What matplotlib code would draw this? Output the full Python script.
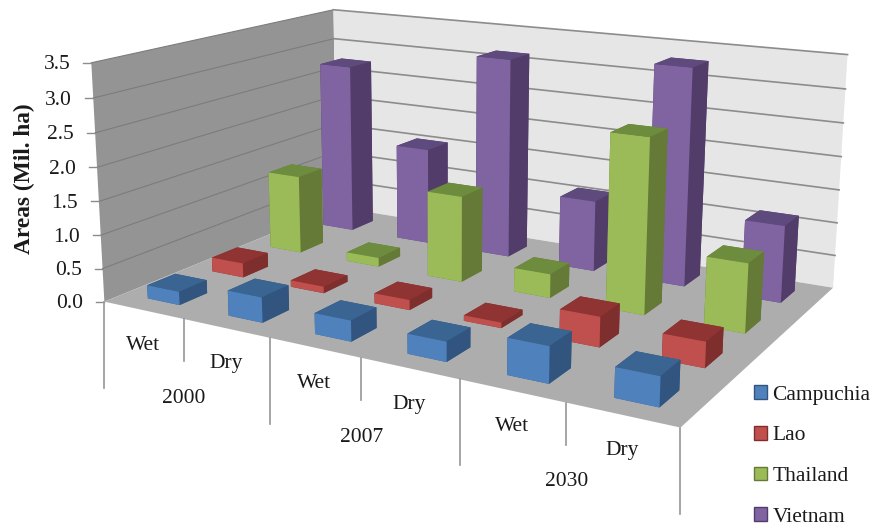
import numpy as np
import matplotlib
matplotlib.use("Agg")
import matplotlib.pyplot as plt
from matplotlib.lines import Line2D
from matplotlib.patches import Patch
from mpl_toolkits.mplot3d.art3d import Poly3DCollection

plt.rcParams['font.family'] = ['Liberation Serif', 'DejaVu Serif']

# Data (million hectares)
periods = ["Wet", "Dry", "Wet", "Dry", "Wet", "Dry"]
years = ["2000", "2007", "2030"]
series_names = ["Campuchia", "Lao", "Thailand", "Vietnam"]
campuchia = [0.20, 0.37, 0.30, 0.28, 0.50, 0.40]
lao = [0.22, 0.10, 0.15, 0.08, 0.43, 0.36]
thailand = [1.24, 0.14, 1.32, 0.36, 2.57, 1.00]
vietnam = [2.76, 1.55, 3.15, 1.10, 3.30, 1.15]
series_values = [campuchia, lao, thailand, vietnam]
z_ticks = [0.0, 0.5, 1.0, 1.5, 2.0, 2.5, 3.0, 3.5]

# Face shades per series: front, top, side
front = ["#4F81BD", "#C0504D", "#9BBB59", "#8064A2"]
top = ["#3A6491", "#8F3432", "#6D8C3E", "#5F4A7E"]
side = ["#31557F", "#7E2F2D", "#647A36", "#523D6A"]

W, H = 876, 526
fig = plt.figure(figsize=(W / 100, H / 100), dpi=100)
# Square 3D axes large enough that nothing is clipped by the axes patch
ax = fig.add_axes([0, -(W - H) / 2 / H, 1, W / H], projection='3d', computed_zorder=False)
ax.set_axis_off()

NX, NY, ZMAX = len(periods), len(series_names), z_ticks[-1]

# Camera: solve the 3x4 projective matrix from the chart box corners
box_world = np.array([[0, 0, 0], [NX, 0, 0], [0, NY, 0], [NX, NY, 0],
                      [0, 0, ZMAX], [0, NY, ZMAX], [NX, NY, ZMAX]], float)
box_pixel = np.array([[106, 302], [680, 428], [335, 207], [834, 287],
                      [90, 62], [335, 10], [847, 55]], float)
rows = []
for (a, b, c), (u, v) in zip(box_world, box_pixel):
    rows.append([a, b, c, 1, 0, 0, 0, 0, -u * a, -u * b, -u * c, -u])
    rows.append([0, 0, 0, 0, a, b, c, 1, -v * a, -v * b, -v * c, -v])
P = np.linalg.svd(np.array(rows))[2][-1].reshape(3, 4)
if P[2] @ np.array([NX / 2, NY / 2, 0, 1]) < 0:
    P = -P


def to_pixel(x, y, z):
    h = P @ np.array([x, y, z, 1.0])
    return h[0] / h[2], h[1] / h[2]


def camera_matrix():
    ax.apply_aspect()
    flip = np.array([[1, 0, 0], [0, -1, H], [0, 0, 1]], float)
    Q = ax.transData.inverted().get_matrix() @ flip @ P
    return np.vstack([Q[0], Q[1], [0, 0, 0, -1], Q[2]])


ax.get_proj = camera_matrix

# Walls and floor
wall = dict(edgecolor='none', linewidth=0)
ax.add_collection3d(Poly3DCollection([[(0, 0, 0), (0, NY, 0), (0, NY, ZMAX), (0, 0, ZMAX)]],
                                     facecolor="#949494", zorder=1, **wall))
ax.add_collection3d(Poly3DCollection([[(0, NY, 0), (NX, NY, 0), (NX, NY, ZMAX), (0, NY, ZMAX)]],
                                     facecolor="#E6E6E6", zorder=1, **wall))
ax.add_collection3d(Poly3DCollection([[(0, 0, 0), (NX, 0, 0), (NX, NY, 0), (0, NY, 0)]],
                                     facecolor="#ADADAD", zorder=2, **wall))

# Gridlines along both walls
for t in z_ticks[1:]:
    ax.plot([0, 0], [0, NY], [t, t], color="#7C7C7C", lw=0.8, zorder=3)
    ax.plot([0, NX], [NY, NY], [t, t], color="#8C8C8C", lw=1.2, zorder=3)

# Bars, painted from the back row forward and left to right
bar_w, bar_d = 0.40, 0.42
order = 10
for j in reversed(range(NY)):
    for i in range(NX):
        colours = [top[j], top[j], front[j], side[j], side[j], side[j]]
        ax.bar3d(i + (1 - bar_w) / 2, j + (1 - bar_d) / 2, 0, bar_w, bar_d, series_values[j][i],
                 color=colours, shade=False, zorder=order, edgecolor='none', linewidth=0)
        order += 1


def fx(px):
    return px / W


def fy(py):
    return 1 - py / H


font_px = 15.5

# Value axis labels and tick marks
for t in z_ticks:
    px, py = to_pixel(0, 0, t)
    fig.add_artist(Line2D([fx(px - 8), fx(px)], [fy(py), fy(py)], color="#8C8C8C", lw=1.0))
    fig.text(fx(px - 21), fy(py + 2), f"{t:.1f}", ha='right', va='center', fontsize=font_px, color="#1A1A1A")
fig.text(fx(24.5), fy(179), "Areas (Mil. ha)", rotation=90, ha='center', va='center',
         fontsize=16.8, fontweight='bold', color="#1A1A1A")

# Two-level category axis below the front floor edge
for i in range(NX + 1):
    px, py = to_pixel(i, 0, 0)
    drop = 86 if i % 2 == 0 else 42
    fig.add_artist(Line2D([fx(px), fx(px)], [fy(py), fy(py + drop)], color="#969696", lw=1.2))
for i, name in enumerate(periods):
    px0, py0 = to_pixel(i, 0, 0)
    px1, py1 = to_pixel(i + 1, 0, 0)
    fig.text(fx((px0 + px1) / 2 - 1), fy((py0 + py1) / 2 + 35.5), name, ha='center', va='center',
             fontsize=font_px, color="#1A1A1A")
for k, name in enumerate(years):
    px0, py0 = to_pixel(2 * k, 0, 0)
    px1, py1 = to_pixel(2 * k + 2, 0, 0)
    fig.text(fx((px0 + px1) / 2 - 3.5), fy((py0 + py1) / 2 + 78.5), name, ha='center', va='center',
             fontsize=font_px, color="#1A1A1A")

# Legend
handles = [Patch(facecolor=c, edgecolor=s, linewidth=1.0) for c, s in zip(front, side)]
fig.legend(handles, series_names, loc='upper left', bbox_to_anchor=(fx(753.5), fy(385)),
           frameon=False, fontsize=font_px, handlelength=0.62, handleheight=0.62,
           handletextpad=0.26, labelspacing=0.985, borderpad=0, borderaxespad=0, labelcolor="#1A1A1A")

fig.savefig("out.png", dpi=100)
